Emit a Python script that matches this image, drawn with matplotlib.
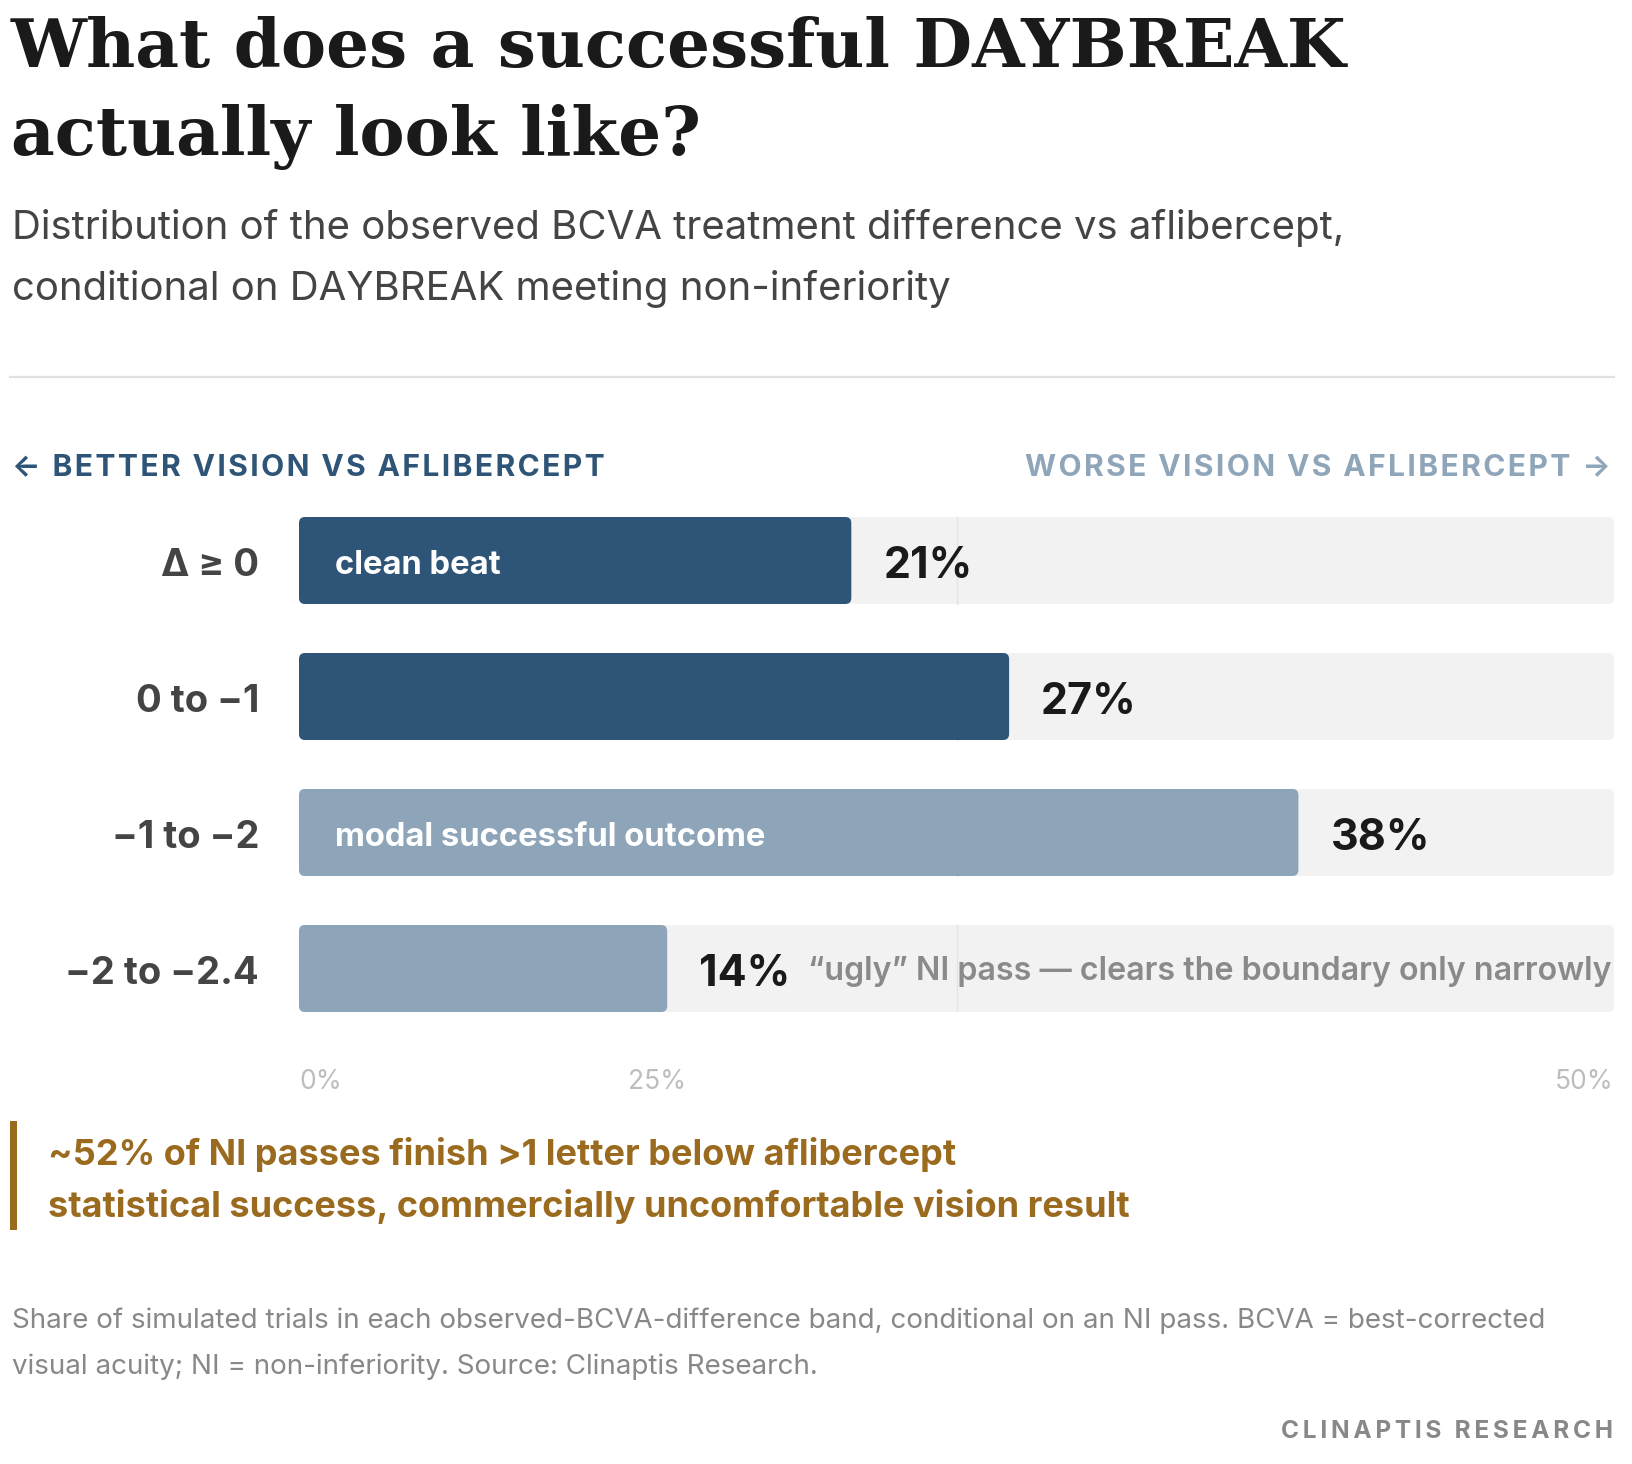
import matplotlib
matplotlib.use("Agg")
import matplotlib.pyplot as plt
from matplotlib.patches import FancyBboxPatch, Rectangle
from matplotlib.lines import Line2D

# ---------------- data ----------------
categories = ["Δ ≥ 0", "0 to −1", "−1 to −2", "−2 to −2.4"]
shares = [21, 27, 38, 14]
inside_labels = ["clean beat", "", "modal successful outcome", ""]
side_notes = ["", "", "", "\u201cugly\u201d NI pass \u2014 clears the boundary only narrowly"]
tick_values = [0, 25, 50]
tick_labels = ["0%", "25%", "50%"]
x_max = 50

title_lines = ["What does a successful DAYBREAK", "actually look like?"]
subtitle_lines = ["Distribution of the observed BCVA treatment difference vs aflibercept,",
                  "conditional on DAYBREAK meeting non-inferiority"]
left_dir = "← BETTER VISION VS AFLIBERCEPT"
right_dir = "WORSE VISION VS AFLIBERCEPT →"
callout_lines = ["~52% of NI passes finish >1 letter below aflibercept",
                 "statistical success, commercially uncomfortable vision result"]
footnote_lines = ["Share of simulated trials in each observed-BCVA-difference band, conditional on an NI pass. BCVA = best-corrected",
                  "visual acuity; NI = non-inferiority. Source: Clinaptis Research."]
brand = "CLINAPTIS RESEARCH"

# ---------------- style ----------------
DARK = "#2e5577"
LIGHT = "#8da4b9"
TRACK = "#f2f2f2"
bar_colors = [DARK, DARK, LIGHT, LIGHT]
SANS = ["Inter", "DejaVu Sans"]
SERIF = ["DejaVu Serif"]

W, H, DPI = 1632, 1464, 100
fig = plt.figure(figsize=(W / DPI, H / DPI), dpi=DPI)
fig.patch.set_facecolor("white")


def fx(x):
    return x / W


def fy(y):
    return 1 - y / H


def spaced(s, sep="\u200a"):
    return sep.join(list(s))


def T(x, y, s, **kw):
    kw.setdefault("va", "baseline")
    kw.setdefault("family", SANS)
    return fig.text(fx(x), fy(y), s, transform=fig.transFigure, **kw)


# title
T(11, 67, title_lines[0], family=SERIF, fontsize=48.7, fontweight="bold", color="#1a1a1a")
T(11, 155, title_lines[1], family=SERIF, fontsize=48.7, fontweight="bold", color="#1a1a1a")
# subtitle
T(12, 239, subtitle_lines[0], fontsize=28.9, color="#444444")
T(12, 300, subtitle_lines[1], fontsize=28.9, color="#444444")
# rule
fig.add_artist(Line2D([fx(10), fx(1614)], [fy(377), fy(377)], color="#e0e0e0", lw=1.6,
                      transform=fig.transFigure))
# direction labels
T(12, 475, spaced(left_dir), fontsize=21.6, fontweight="bold", color=DARK)
T(1611, 475, spaced(right_dir), fontsize=21.6, fontweight="bold", color="#8fa5b9", ha="right")

# ---------------- bars ----------------
ax_left, ax_right = 299, 1614
row0, pitch, bar_h_px = 560.5, 136, 87
n = len(categories)
half = bar_h_px / 2 / pitch
top_px = row0 - bar_h_px / 2
bot_px = row0 + (n - 1) * pitch + bar_h_px / 2
ax = fig.add_axes([fx(ax_left), fy(bot_px), (ax_right - ax_left) / W, (bot_px - top_px) / H])
ax.set_xlim(0, x_max)
ax.set_ylim(n - 1 + half, -half)
ax.axis("off")

px_per_x = (ax_right - ax_left) / x_max
aspect = px_per_x / pitch
r = 6 / px_per_x

for i, (cat, v) in enumerate(zip(categories, shares)):
    ax.add_patch(FancyBboxPatch((0, i - half), x_max, 2 * half,
                                boxstyle=f"round,pad=0,rounding_size={r}",
                                mutation_aspect=aspect, fc=TRACK, ec="none", zorder=1))
    ax.add_line(Line2D([25, 25], [i - half, i + half], color="#e4e4e4", lw=1, zorder=2))
    ax.add_patch(FancyBboxPatch((0, i - half), v, 2 * half,
                                boxstyle=f"round,pad=0,rounding_size={r}",
                                mutation_aspect=aspect, fc=bar_colors[i], ec="none", zorder=3))
    # row label
    ax.annotate(cat, xy=(0, i), xytext=(-40, -15.5), textcoords="offset pixels",
                ha="right", va="baseline", fontsize=27.5, fontweight="bold", color="#444444",
                family=SANS, annotation_clip=False)
    # value label
    ax.annotate(f"{v}%", xy=(v, i), xytext=(32, -18), textcoords="offset pixels",
                ha="left", va="baseline", fontsize=31, fontweight="bold", color="#1a1a1a",
                family=SANS, zorder=5)
    if inside_labels[i]:
        ax.annotate(inside_labels[i], xy=(0, i), xytext=(36, -13.5), textcoords="offset pixels",
                    ha="left", va="baseline", fontsize=23.6, fontweight="bold", color="white",
                    family=SANS, zorder=5)
    if side_notes[i]:
        ax.annotate(side_notes[i], xy=(v, i), xytext=(141, -11.5), textcoords="offset pixels",
                    ha="left", va="baseline", fontsize=23.2, fontweight="semibold", color="#8a8a8a",
                    family=SANS, zorder=5)

# tick labels (0% at left, 25% label at quarter width, 50% at right end)
tick_pos = [0, x_max / 4, x_max]
tick_ha = ["left", "left", "right"]
for p, lab, ha in zip(tick_pos, tick_labels, tick_ha):
    ax.annotate(lab, xy=(p, 0), xycoords=("data", "figure fraction"),
                xytext=(p, fy(1089)), textcoords=("data", "figure fraction"),
                ha=ha, va="baseline", fontsize=19, color="#bdbdbd", family=SANS,
                annotation_clip=False)

# ---------------- callout ----------------
fig.add_artist(Rectangle((fx(10), fy(1230)), 6.5 / W, (1230 - 1121) / H, color="#9a6a1f",
                         transform=fig.transFigure, lw=0))
T(48, 1165, callout_lines[0], fontsize=26.0, fontweight="bold", color="#9a6a1f")
T(48, 1217, callout_lines[1], fontsize=26.0, fontweight="bold", color="#9a6a1f")

# ---------------- footnote ----------------
T(12, 1328, footnote_lines[0], fontsize=20, color="#888888")
T(12, 1374, footnote_lines[1], fontsize=20, color="#888888")
T(1613, 1438, spaced(brand, "\u200a\u200a"), fontsize=17.6, fontweight="bold", color="#888888", ha="right")

fig.savefig("out.png", dpi=DPI, facecolor="white")
